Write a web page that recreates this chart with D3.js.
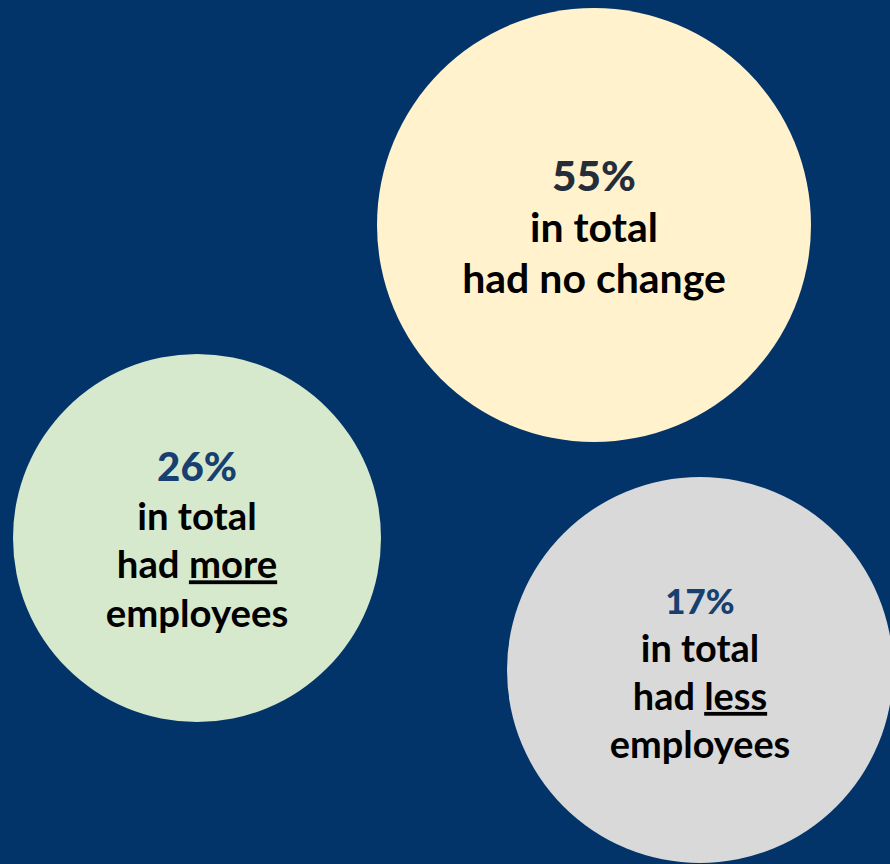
<!DOCTYPE html>
<html>
<head>
<meta charset="utf-8">
<script src="https://cdn.jsdelivr.net/npm/d3@7"></script>
<style>
  html, body { margin: 0; padding: 0; background: #02346A; }
  svg { display: block; }
  text { font-family: Lato, "Open Sans", sans-serif; font-weight: 700; }
</style>
</head>
<body>
<svg id="chart" width="890" height="864"></svg>
<script>
// Share of companies by change in headcount
const categories = ["no change", "more", "less"];
const shares = [55, 26, 17];
const qualifier = "in total";

// Bubble placement on the canvas (centre and radius of each bubble)
const bubbleX = [594, 197, 700];
const bubbleY = [225, 538, 670];
const bubbleR = [217, 184, 193];
const fills = ["#FFF2CC", "#D7E9CC", "#D9D9D9"];
const pctColors = ["#252D3A", "#173F6F", "#173F6F"];
const fontScale = [1.07, 1, 0.99];
const pctScale = [1.03, 1.05, 0.92];

const svg = d3.select("#chart");
const W = 890, H = 864;
const pct = d3.format(".0f");

svg.append("rect").attr("width", W).attr("height", H).attr("fill", "#02346A");

const rows = categories.map((c, i) => ({
  category: c, value: shares[i],
  x: bubbleX[i], y: bubbleY[i], r: bubbleR[i],
  fill: fills[i], pctColor: pctColors[i], k: fontScale[i], pk: pctScale[i]
}));

const g = svg.selectAll("g.bubble").data(rows).join("g")
  .attr("class", "bubble")
  .attr("transform", d => `translate(${d.x},${d.y})`);

g.append("circle").attr("r", d => d.r).attr("fill", d => d.fill);

g.each(function (d) {
  const node = d3.select(this);
  const base = 38.3 * d.k;
  const lh = 48.5 * d.k * (d.category === "no change" ? 0.985 : 1);
  const lines = d.category === "no change"
    ? [["had no change"]]
    : [["had ", d.category], ["employees"]];
  const total = 2 + lines.length;
  const top = -((total - 1) * lh) / 2 + base * 0.42;

  node.append("text")
    .attr("text-anchor", "middle")
    .attr("y", top)
    .attr("fill", d.pctColor)
    .attr("font-size", base * d.pk)
    .style("font-weight", 900)
    .text(pct(d.value) + "%");

  node.append("text")
    .attr("text-anchor", "middle")
    .attr("y", top + lh)
    .attr("fill", "#000")
    .attr("font-size", base)
    .text(qualifier);

  lines.forEach((parts, j) => {
    const t = node.append("text")
      .attr("text-anchor", "middle")
      .attr("y", top + lh * (2 + j))
      .attr("fill", "#000")
      .attr("font-size", base);
    parts.forEach((p, m) => {
      const ts = t.append("tspan").text(p);
      if (parts.length > 1 && m === 1) ts.style("text-decoration", "underline");
    });
  });
});
</script>
</body>
</html>
